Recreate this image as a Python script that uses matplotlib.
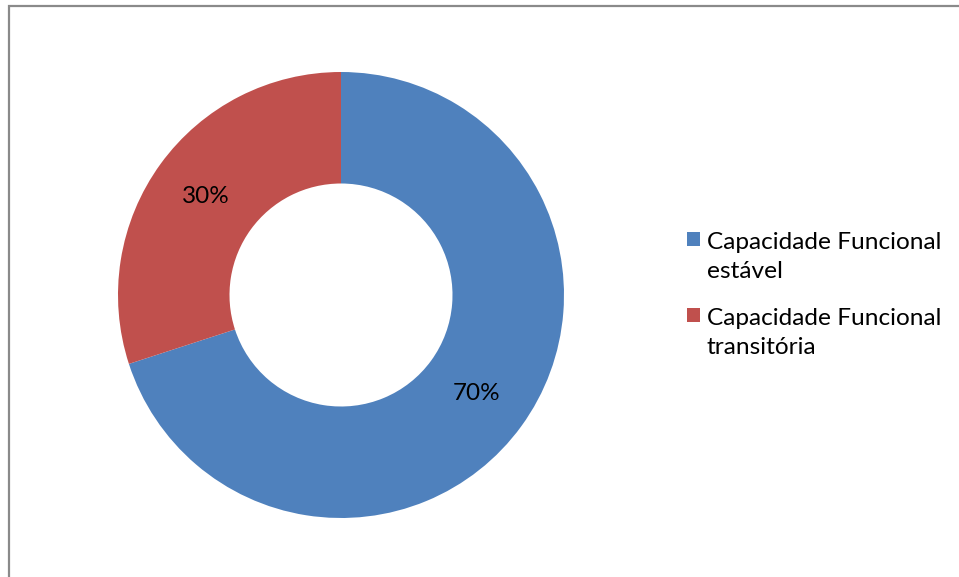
import matplotlib
matplotlib.use('Agg')
from matplotlib import pyplot as plt
from matplotlib.patches import Rectangle
from matplotlib.legend_handler import HandlerPatch

# Data
labels = ['Capacidade Funcional\nestável', 'Capacidade Funcional\ntransitória']
values = [70, 30]
colors = ['#4F81BD', '#C0504D']

plt.rcParams['font.family'] = ['Lato', 'DejaVu Sans']

W, H = 959, 577
fig = plt.figure(figsize=(W / 100, H / 100), dpi=100)
fig.patch.set_facecolor('white')

# chart border (runs off the right and bottom edges)
fig.patches.append(Rectangle((9 / W, -0.1), 1.2, (H - 6) / H + 0.1, transform=fig.transFigure,
                             fill=False, edgecolor='#8a8a8a', linewidth=1.6))

# donut axes: centre (341, 295), radius 223 px
cx, cy, r = 341, 295, 223
ax = fig.add_axes([(cx - r) / W, (H - cy - r) / H, 2 * r / W, 2 * r / H])
wedges, texts, autotexts = ax.pie(values, colors=colors, startangle=90, counterclock=False,
                                  autopct='%1.0f%%', pctdistance=0.75, radius=1.0,
                                  wedgeprops=dict(width=0.5, linewidth=0),
                                  textprops=dict(fontsize=17.5, color='black'))
ax.set_xlim(-1, 1)
ax.set_ylim(-1, 1)
ax.set_aspect('equal')


def square_up(legend, orig_handle, xdescent, ydescent, width, height, fontsize):
    # put the swatch beside the first line of a two-line label
    return Rectangle((-xdescent, -ydescent + 0.73 * fontsize), width, height)


fs = 17.6
leg = fig.legend(wedges, labels, loc='center left', bbox_to_anchor=(665 / W, 1 - 295 / H),
                 frameon=False, fontsize=fs, handlelength=0.53, handleheight=0.53,
                 handletextpad=0.28, labelspacing=1.1,
                 handler_map={w: HandlerPatch(patch_func=square_up) for w in wedges})
for t in leg.get_texts():
    t.set_linespacing(1.45)

plt.savefig('out.png', dpi=100)
